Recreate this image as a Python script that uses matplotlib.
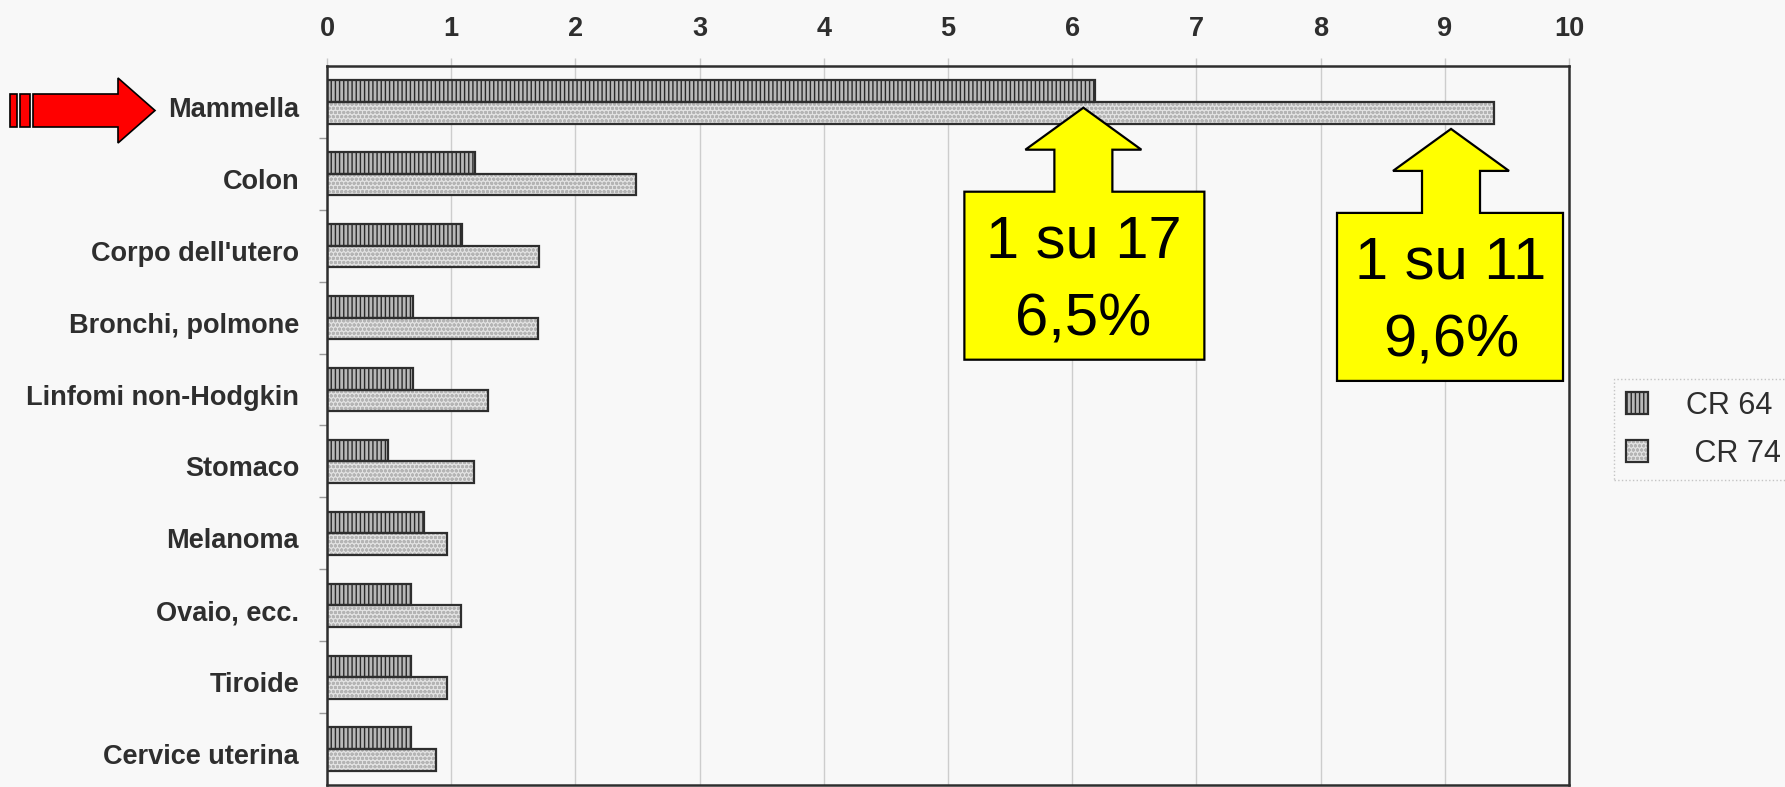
import matplotlib
matplotlib.use('Agg')
import matplotlib.pyplot as plt
import matplotlib.patches as mpatches
import matplotlib.transforms as mtransforms
from matplotlib import font_manager
from matplotlib.legend_handler import HandlerTuple

SITES = ['Mammella', 'Colon', "Corpo dell'utero", 'Bronchi, polmone',
         'Linfomi non-Hodgkin', 'Stomaco', 'Melanoma', 'Ovaio, ecc.',
         'Tiroide', 'Cervice uterina']
CR64 = [6.18, 1.19, 1.09, 0.69, 0.69, 0.49, 0.78, 0.68, 0.68, 0.68]
CR74 = [9.40, 2.49, 1.71, 1.70, 1.30, 1.18, 0.97, 1.08, 0.97, 0.88]
SERIES = ['CR 64', ' CR 74']
X_TICKS = list(range(0, 11))
CALLOUT_TEXT = [('1 su 17', '6,5%'), ('1 su 11', '9,6%')]

W, H = 1785, 787
BG = '#f8f8f8'
INK = '#2e2e2e'

installed = {f.name for f in font_manager.fontManager.ttflist}
BOX_FONT = 'Liberation Sans Narrow' if 'Liberation Sans Narrow' in installed else 'Liberation Sans'
BOX_SIZE = 50 if BOX_FONT == 'Liberation Sans Narrow' else 43

plt.rcParams['font.family'] = ['Liberation Sans', 'DejaVu Sans']
plt.rcParams['hatch.linewidth'] = 1.0

fig = plt.figure(figsize=(W / 100, H / 100), dpi=100, facecolor=BG)
ax = fig.add_axes([327 / W, 1 - 785 / H, (1569 - 327) / W, (785 - 66) / H])
ax.set_facecolor(BG)

ypos = list(range(len(SITES)))
bar_h = 0.30
y64 = [y - bar_h / 2 for y in ypos]
y74 = [y + bar_h / 2 for y in ypos]

# pattern layer, then a plain outline on top of it
fill64 = ax.barh(y64, CR64, height=bar_h, color='#b8b8b8', edgecolor='#2a2a2a',
                 hatch='||||', linewidth=0, zorder=2)
edge64 = ax.barh(y64, CR64, height=bar_h, facecolor='none', edgecolor=INK,
                 linewidth=1.6, zorder=3)
fill74 = ax.barh(y74, CR74, height=bar_h, color='#e2e2e2', edgecolor='#b4b4b4',
                 hatch='oooo', linewidth=0, zorder=2)
edge74 = ax.barh(y74, CR74, height=bar_h, facecolor='none', edgecolor=INK,
                 linewidth=1.6, zorder=3)

ax.set_xlim(0, 10)
ax.set_ylim(len(SITES) - 0.5, -0.5)
ax.xaxis.tick_top()
ax.set_xticks(X_TICKS)
ax.set_xticklabels([str(t) for t in X_TICKS], fontsize=19.5, fontweight='bold', color=INK)
ax.tick_params(axis='x', length=6, width=1, color='#c8c8c8', pad=11)
ax.grid(axis='x', color='#cdcdcd', linewidth=1)
ax.set_axisbelow(True)

ax.set_yticks([])
ax.set_yticks([y + 0.5 for y in ypos[:-1]], minor=True)
ax.tick_params(axis='y', which='minor', length=6, width=1, color='#9a9a9a')
for side in ax.spines.values():
    side.set_color(INK)
    side.set_linewidth(1.8)

# category names, sitting a little below the bar pair
lab_tr = mtransforms.offset_copy(
    mtransforms.blended_transform_factory(ax.transAxes, ax.transData),
    fig=fig, x=-28, y=-8, units='dots')
for y, name in zip(ypos, SITES):
    ax.text(0, y, name, transform=lab_tr, ha='right', va='center',
            fontsize=19.5, fontweight='bold', color=INK)


def callout(x, y, lines, box_l, box_r):
    # up-pointing block arrow with a box, drawn in pixels below the tip
    head_h, head_w, shaft_w, neck, bottom = 42, 116, 58, 84, 252
    verts = [(0, 0), (head_w / 2, head_h), (shaft_w / 2, head_h),
             (shaft_w / 2, neck), (box_r, neck), (box_r, bottom),
             (box_l, bottom), (box_l, neck), (-shaft_w / 2, neck),
             (-shaft_w / 2, head_h), (-head_w / 2, head_h)]
    tr = mtransforms.Affine2D().scale(1, -1) + mtransforms.ScaledTranslation(x, y, ax.transData)
    ax.add_patch(mpatches.Polygon(verts, closed=True, transform=tr, facecolor='#ffff00',
                                  edgecolor='black', linewidth=1.6, zorder=5,
                                  clip_on=False))
    for dy, txt in zip((134, 212), lines):
        ax.text(0, dy, txt, transform=tr, ha='center', va='center', fontsize=BOX_SIZE,
                family=BOX_FONT, color='black', zorder=6, clip_on=False)


callout(6.09, 0.08, CALLOUT_TEXT[0], -119, 121)
callout(9.05, 0.375, CALLOUT_TEXT[1], -114, 112)

# striped red arrow in front of the first category
px = mtransforms.Affine2D().scale(1 / W, -1 / H).translate(0, 1) + fig.transFigure
red = dict(facecolor='#ff0000', edgecolor='black', linewidth=1.2, transform=px)
fig.add_artist(mpatches.Rectangle((10, 94), 7, 33, **red))
fig.add_artist(mpatches.Rectangle((20, 94), 10, 33, **red))
fig.add_artist(mpatches.Polygon([(33, 94), (118, 94), (118, 78), (155, 110.5),
                                 (118, 143), (118, 127), (33, 127)], closed=True, **red))

leg = fig.legend([(fill64, edge64), (fill74, edge74)], SERIES,
                 handler_map={tuple: HandlerTuple(ndivide=1)},
                 loc='upper left', bbox_to_anchor=(1614 / W, 1 - 379 / H),
                 borderaxespad=0, fontsize=22, handlelength=0.72, handleheight=0.72,
                 handletextpad=1.24, borderpad=0.38, labelspacing=0.59,
                 fancybox=False, facecolor=BG, framealpha=1, edgecolor='#c4c4c4',
                 labelcolor=INK)
leg.get_frame().set_linewidth(1)
leg.get_frame().set_linestyle(':')

fig.savefig('out.png', dpi=100, facecolor=BG)
